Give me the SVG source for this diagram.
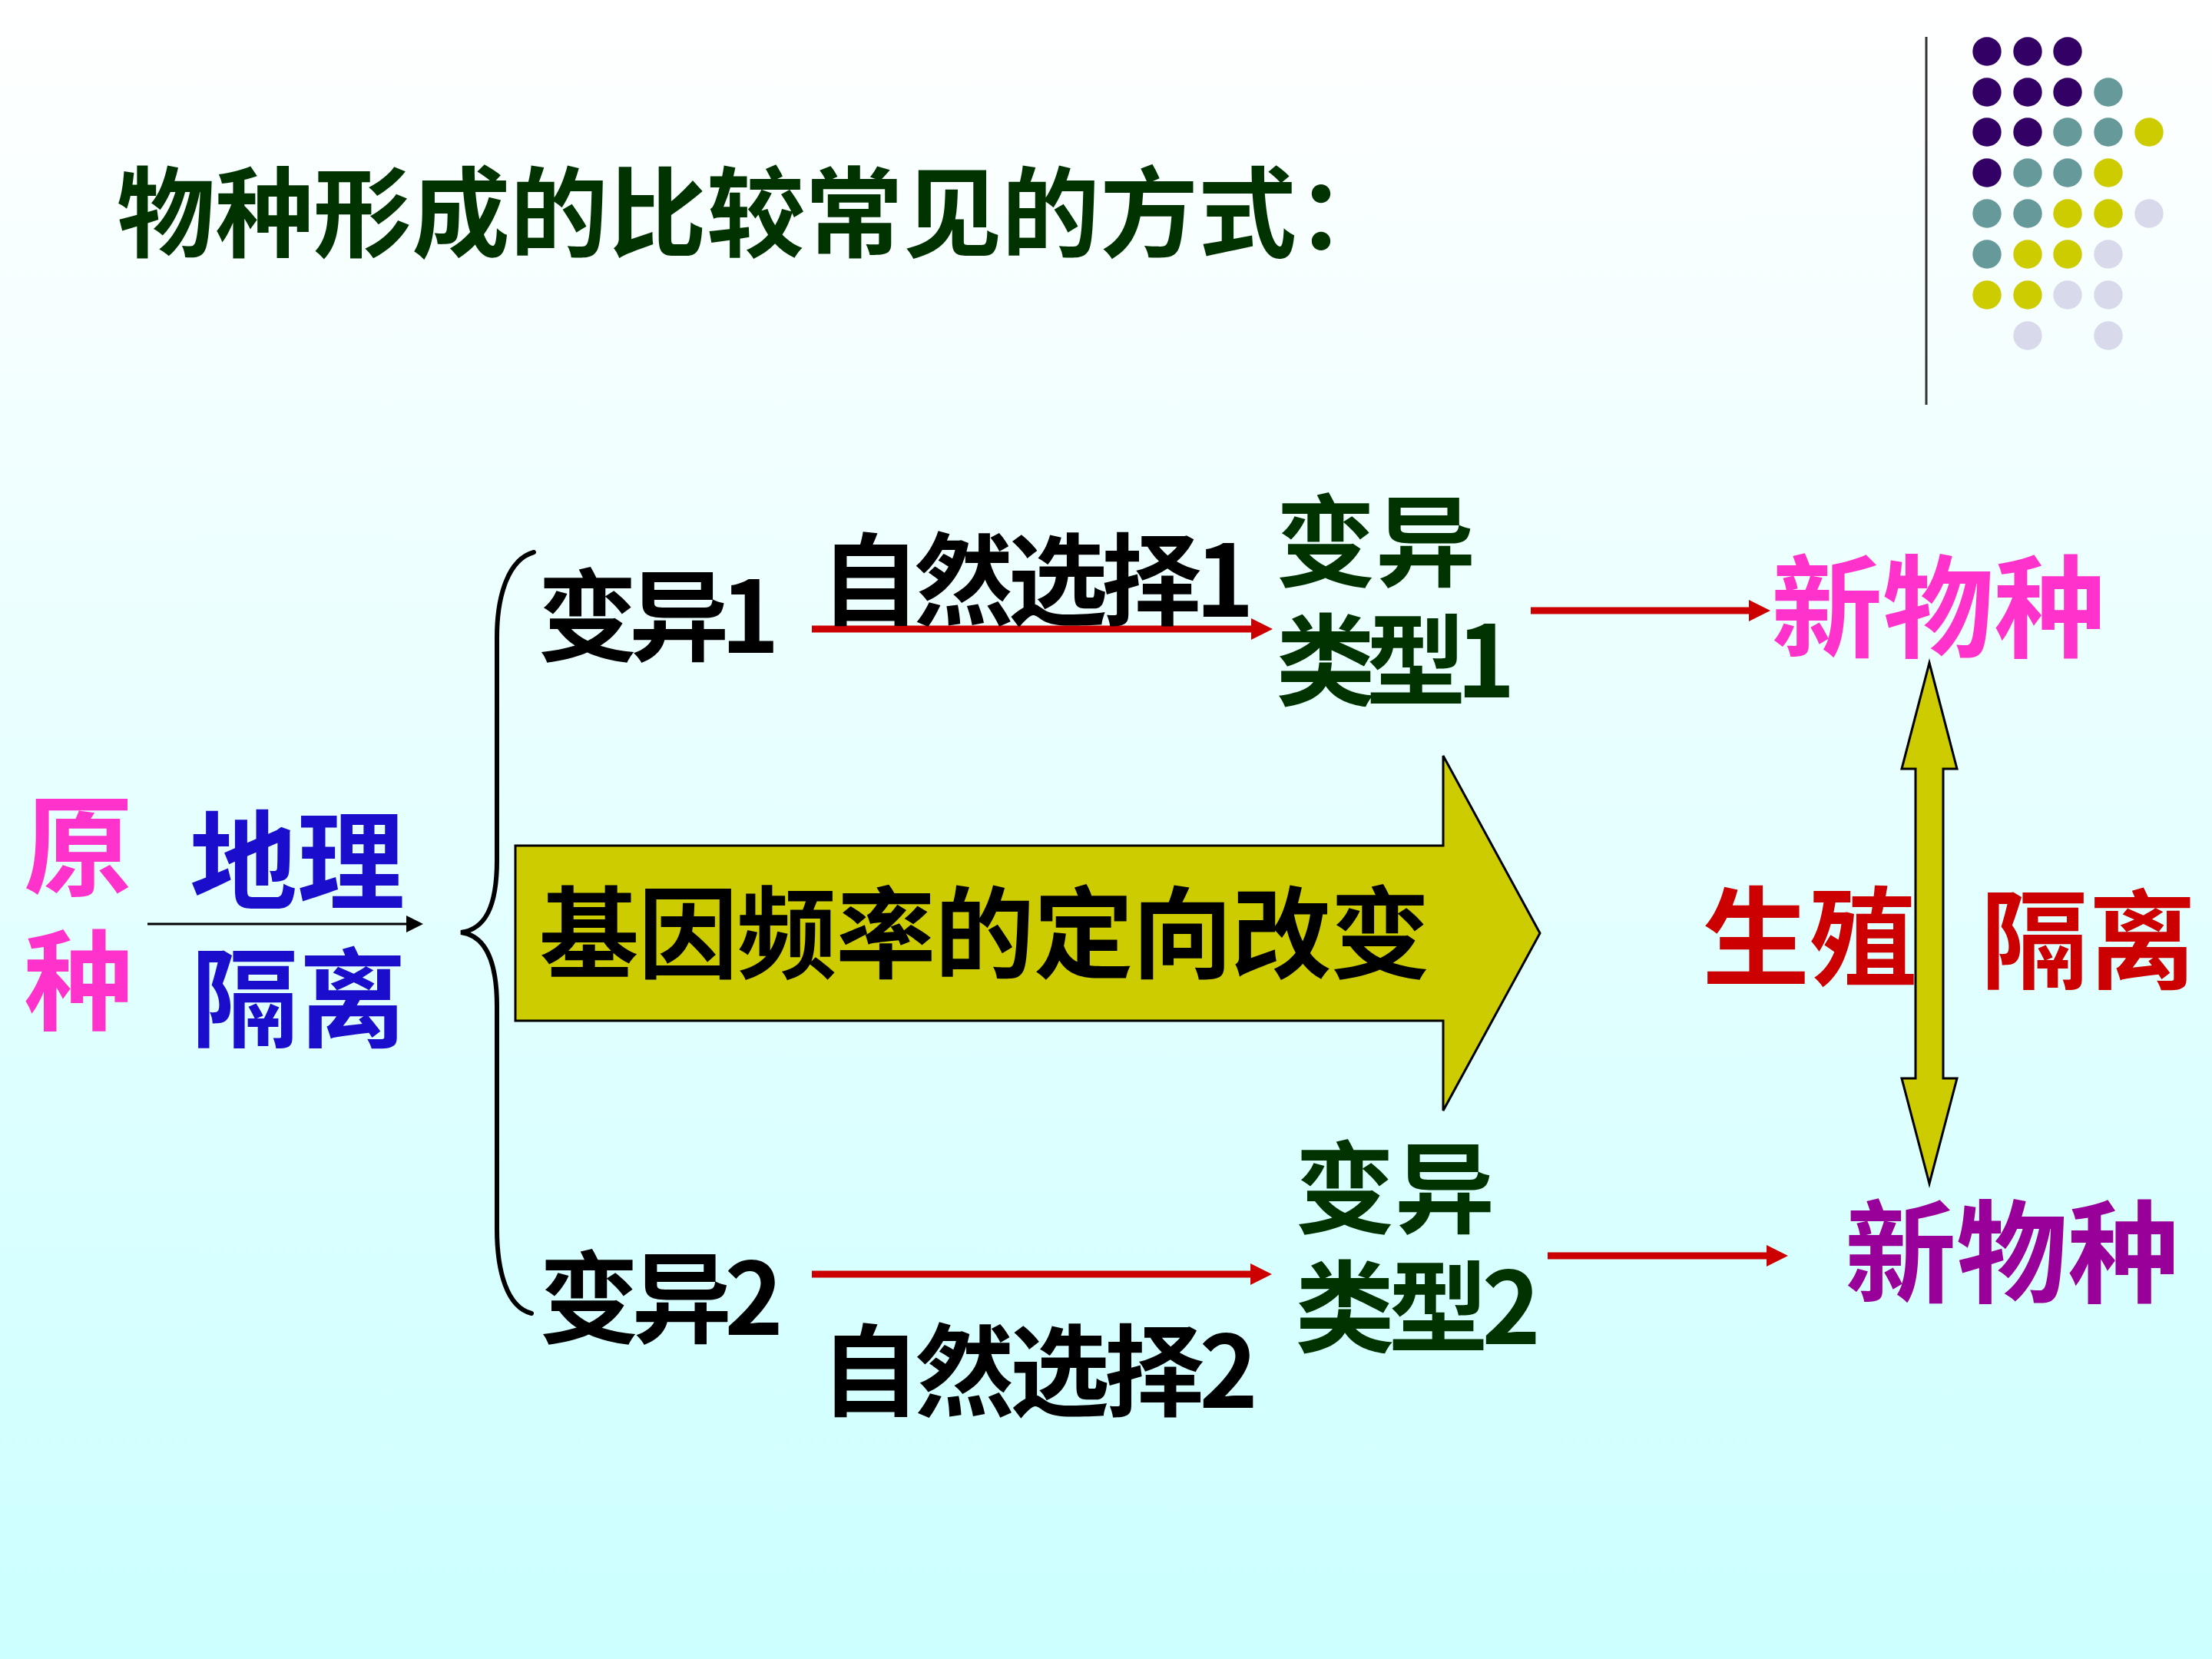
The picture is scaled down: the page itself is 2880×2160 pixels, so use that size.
<svg xmlns="http://www.w3.org/2000/svg" width="2880" height="2160" viewBox="0 0 2880 2160">
<defs>
<linearGradient id="bg" x1="0" y1="0" x2="0" y2="1">
<stop offset="0" stop-color="#FFFFFF"/>
<stop offset="1" stop-color="#CCFFFF"/>
</linearGradient>
<marker id="redHead" markerUnits="userSpaceOnUse" markerWidth="28" markerHeight="28" viewBox="0 -14 28 28" refX="0" refY="0" orient="auto">
<path d="M0,-14 L28,0 L0,14 z" fill="#CC0000"/>
</marker>
<marker id="blackHead" markerUnits="userSpaceOnUse" markerWidth="22" markerHeight="22" viewBox="0 -11 22 22" refX="0" refY="0" orient="auto">
<path d="M0,-11 L22,0 L0,11 z" fill="#000000"/>
</marker>
</defs>
<style>
text { font-family: "Noto Sans CJK SC", "Liberation Sans", sans-serif; font-weight: 700; }
.title { font-size: 128px; fill: #003300; }
.t130 { font-size: 130px; }
.blk { fill: #000000; }
.grn { fill: #003300; }
.pink { fill: #FF33CC; }
.blue { fill: #1A0ECC; }
.red { fill: #CC0000; }
.purple { fill: #990099; }
.redline { stroke: #CC0000; stroke-width: 9; fill: none; marker-end: url(#redHead); }
.dot-p { fill: #330066; }
.dot-t { fill: #669999; }
.dot-y { fill: #CCCC00; }
.dot-l { fill: #D9D9EC; }
</style>
<rect x="0" y="0" width="2880" height="2160" fill="url(#bg)"/>

<g id="decoration">
<line x1="2508" y1="48" x2="2508" y2="527" stroke="#333333" stroke-width="3"/>
<g id="dots">
<circle class="dot-p" cx="2587" cy="67" r="18.7"/>
<circle class="dot-p" cx="2640" cy="67" r="18.7"/>
<circle class="dot-p" cx="2692" cy="67" r="18.7"/>
<circle class="dot-p" cx="2587" cy="120" r="18.7"/>
<circle class="dot-p" cx="2640" cy="120" r="18.7"/>
<circle class="dot-p" cx="2692" cy="120" r="18.7"/>
<circle class="dot-t" cx="2745" cy="120" r="18.7"/>
<circle class="dot-p" cx="2587" cy="172" r="18.7"/>
<circle class="dot-p" cx="2640" cy="172" r="18.7"/>
<circle class="dot-t" cx="2692" cy="172" r="18.7"/>
<circle class="dot-t" cx="2745" cy="172" r="18.7"/>
<circle class="dot-y" cx="2798" cy="172" r="18.7"/>
<circle class="dot-p" cx="2587" cy="225" r="18.7"/>
<circle class="dot-t" cx="2640" cy="225" r="18.7"/>
<circle class="dot-t" cx="2692" cy="225" r="18.7"/>
<circle class="dot-y" cx="2745" cy="225" r="18.7"/>
<circle class="dot-t" cx="2587" cy="278" r="18.7"/>
<circle class="dot-t" cx="2640" cy="278" r="18.7"/>
<circle class="dot-y" cx="2692" cy="278" r="18.7"/>
<circle class="dot-y" cx="2745" cy="278" r="18.7"/>
<circle class="dot-l" cx="2798" cy="278" r="18.7"/>
<circle class="dot-t" cx="2587" cy="331" r="18.7"/>
<circle class="dot-y" cx="2640" cy="331" r="18.7"/>
<circle class="dot-y" cx="2692" cy="331" r="18.7"/>
<circle class="dot-l" cx="2745" cy="331" r="18.7"/>
<circle class="dot-y" cx="2587" cy="384" r="18.7"/>
<circle class="dot-y" cx="2640" cy="384" r="18.7"/>
<circle class="dot-l" cx="2692" cy="384" r="18.7"/>
<circle class="dot-l" cx="2745" cy="384" r="18.7"/>
<circle class="dot-l" cx="2640" cy="437" r="18.7"/>
<circle class="dot-l" cx="2745" cy="437" r="18.7"/>
</g>
</g>

<g id="title">
<text class="title" x="152" y="325">物种形成的比较常见的方式：</text>
</g>

<g id="connectors">
<line x1="192" y1="1203" x2="529" y2="1203" stroke="#000000" stroke-width="3" marker-end="url(#blackHead)"/>
<path d="M695,719 C662,728 647,775 647,830 L647,1120 C647,1180 632,1210 600,1214 C632,1218 647,1250 647,1310 L647,1600 C647,1655 660,1702 692,1710" fill="none" stroke="#000000" stroke-width="6" stroke-linecap="round"/>
<line class="redline" x1="1057" y1="819" x2="1629" y2="819"/>
<line class="redline" x1="1993" y1="795" x2="2277" y2="795"/>
<line class="redline" x1="1057" y1="1659" x2="1628" y2="1659"/>
<line class="redline" x1="2015" y1="1635" x2="2300" y2="1635"/>
</g>

<g id="node-big-arrow">
<polygon points="671,1101 1879,1101 1879,984 2005,1215 1879,1446 1879,1329 671,1329" fill="#CCCC00" stroke="#000000" stroke-width="3"/>
<text class="t130 blk" x="702" y="1263" textLength="1160">基因频率的定向改变</text>
</g>

<g id="node-double-arrow">
<polygon points="2512,863 2548,1001 2530,1001 2530,1404 2548,1404 2512,1541 2476,1404 2494,1404 2494,1001 2476,1001" fill="#CCCC00" stroke="#000000" stroke-width="3"/>
</g>

<g id="node-original">
<text class="pink" font-size="142" x="31" y="1155">原</text>
<text class="pink" font-size="142" x="31" y="1330">种</text>
</g>

<g id="node-geo">
<text class="blue" font-size="140" x="247" y="1173">地理</text>
<text class="blue" font-size="140" x="249" y="1352">隔离</text>
</g>

<g id="node-var1">
<text class="t130 blk" x="700" y="850" textLength="315">变异1</text>
</g>
<g id="node-sel1">
<text class="t130 blk" x="1068" y="803" textLength="565">自然选择1</text>
</g>
<g id="node-type1">
<text class="t130 grn" x="1661" y="753">变异</text>
<text class="t130 grn" x="1661" y="908" textLength="312">类型1</text>
</g>
<g id="node-new1">
<text class="pink" font-size="145" x="2306" y="845">新物种</text>
</g>

<g id="node-repro">
<text class="red" font-size="140" x="2216" y="1272">生殖</text>
<text class="red" font-size="140" x="2579" y="1276">隔离</text>
</g>

<g id="node-var2">
<text class="t130 blk" x="702" y="1738" textLength="318">变异2</text>
</g>
<g id="node-sel2">
<text class="t130 blk" x="1068" y="1833" textLength="570">自然选择2</text>
</g>
<g id="node-type2">
<text class="t130 grn" x="1686" y="1595">变异</text>
<text class="t130 grn" x="1686" y="1750" textLength="320">类型2</text>
</g>
<g id="node-new2">
<text class="purple" font-size="145" x="2402" y="1685">新物种</text>
</g>
</svg>
